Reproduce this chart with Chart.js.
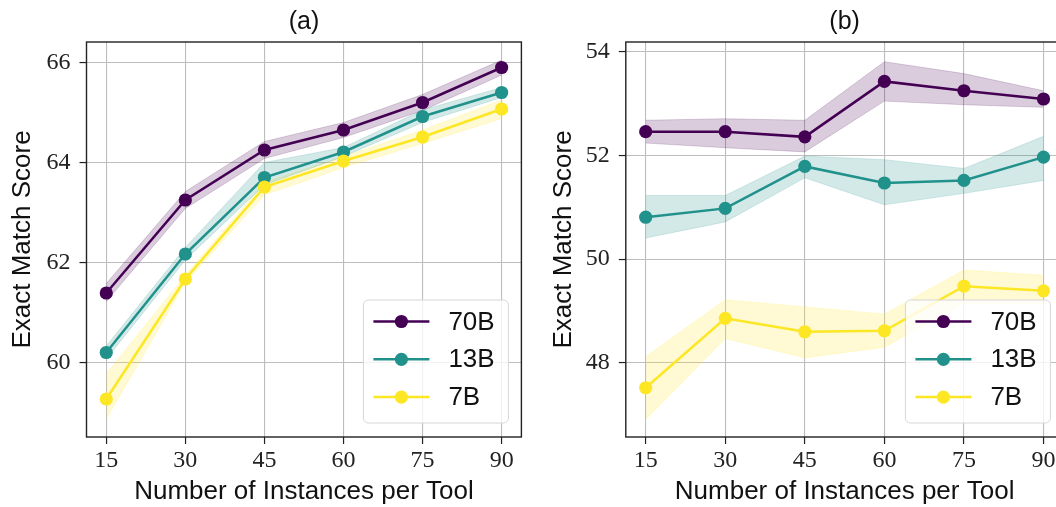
<!DOCTYPE html>
<html>
<head>
<meta charset="utf-8">
<script src="https://cdn.jsdelivr.net/npm/chart.js@4.4.1/dist/chart.umd.min.js"></script>
<style>
html,body{margin:0;padding:0;overflow:hidden;background:#fff;width:1056px;height:507px;position:relative}
#ca{position:absolute;left:0;top:0}
#cb{position:absolute;left:528px;top:0}
</style>
</head>
<body>
<canvas id="ca" width="528" height="507"></canvas>
<canvas id="cb" width="542" height="507"></canvas>
<script>
// ---------- data ----------
const instances = [15, 30, 45, 60, 75, 90];
const xTickValues = [15, 30, 45, 60, 75, 90];
const xLimits = [11.25, 93.75];
const modelNames = ['70B', '13B', '7B'];

const yTicksA = [60, 62, 64, 66];
const yLimitsA = [58.51, 66.41];
const yTicksB = [48, 50, 52, 54];
const yLimitsB = [46.57, 54.19];

// panel (a)
const a70   = [61.39, 63.25, 64.25, 64.65, 65.20, 65.90];
const a70Lo = [61.22, 63.08, 64.08, 64.50, 65.04, 65.75];
const a70Hi = [61.58, 63.42, 64.42, 64.80, 65.36, 66.05];
const a13   = [60.20, 62.17, 63.70, 64.21, 64.92, 65.40];
const a13Lo = [60.07, 62.05, 63.55, 64.12, 64.80, 65.30];
const a13Hi = [60.33, 62.30, 64.00, 64.30, 65.05, 65.50];
const a7    = [59.27, 61.67, 63.51, 64.03, 64.51, 65.07];
const a7Lo  = [58.87, 61.60, 63.35, 63.90, 64.38, 64.88];
const a7Hi  = [59.77, 61.75, 63.60, 64.12, 64.65, 65.25];

// panel (b)
const b70   = [52.46, 52.46, 52.36, 53.43, 53.25, 53.09];
const b70Lo = [52.24, 52.15, 52.07, 53.05, 52.98, 52.93];
const b70Hi = [52.68, 52.71, 52.68, 53.81, 53.58, 53.25];
const b13   = [50.81, 50.98, 51.79, 51.47, 51.52, 51.97];
const b13Lo = [50.41, 50.72, 51.57, 51.05, 51.27, 51.52];
const b13Hi = [51.23, 51.23, 51.99, 51.92, 51.75, 52.37];
const b7    = [47.52, 48.86, 48.60, 48.62, 49.48, 49.39];
const b7Lo  = [46.91, 48.47, 48.10, 48.30, 49.15, 49.15];
const b7Hi  = [48.12, 49.22, 49.08, 48.94, 49.79, 49.69];

// ---------- style ----------
const palette = [[68, 1, 84], [33, 145, 140], [253, 231, 37]];
const SANS = "'Liberation Sans', Arial, sans-serif";
const SERIF = "'Liberation Serif', 'Times New Roman', serif";
const rgba = (c, a) => `rgba(${c[0]},${c[1]},${c[2]},${a})`;
const pts = arr => instances.map((x, i) => ({ x: x, y: arr[i] }));

function buildDatasets(means, lows, highs) {
  const ds = [];
  modelNames.forEach((name, i) => {
    const c = palette[i];
    ds.push({ label: name + ' upper', data: pts(highs[i]), borderColor: rgba(c, 0.22), borderWidth: 0.8,
      pointRadius: 0, pointHoverRadius: 0, fill: false, order: 20 + i });
    ds.push({ label: name + ' lower', data: pts(lows[i]), borderColor: rgba(c, 0.22), borderWidth: 0.8,
      backgroundColor: rgba(c, 0.2), pointRadius: 0, pointHoverRadius: 0, fill: '-1', order: 20 + i });
    ds.push({ label: name, data: pts(means[i]), borderColor: rgba(c, 1), backgroundColor: rgba(c, 1),
      pointBackgroundColor: rgba(c, 1), pointBorderWidth: 0, borderWidth: 2.5, pointRadius: 6.6,
      pointHoverRadius: 6.6, fill: false, tension: 0, order: 3 - i, inBox: true });
  });
  return ds;
}

const panelDecor = {
  id: 'panelDecor',
  afterDatasetsDraw(chart) {
    const { ctx, chartArea: a } = chart;
    ctx.save();
    ctx.strokeStyle = '#222';
    ctx.lineWidth = 1.4;
    ctx.strokeRect(a.left, a.top, a.right - a.left, a.bottom - a.top);
    ctx.restore();
  },
  afterDraw(chart) {
    const { ctx, chartArea: a } = chart;
    const items = chart.data.datasets.filter(d => d.inBox);
    const w = 145, h = 123;
    const x = a.right - 13 - w, y = a.bottom - 14 - h, r = 5;
    ctx.save();
    ctx.beginPath();
    ctx.moveTo(x + r, y); ctx.lineTo(x + w - r, y); ctx.arcTo(x + w, y, x + w, y + r, r);
    ctx.lineTo(x + w, y + h - r); ctx.arcTo(x + w, y + h, x + w - r, y + h, r);
    ctx.lineTo(x + r, y + h); ctx.arcTo(x, y + h, x, y + h - r, r);
    ctx.lineTo(x, y + r); ctx.arcTo(x, y, x + r, y, r); ctx.closePath();
    ctx.fillStyle = 'rgba(255,255,255,0.8)';
    ctx.fill();
    ctx.strokeStyle = '#d6d6d6';
    ctx.lineWidth = 1;
    ctx.stroke();
    items.forEach((d, i) => {
      const cy = y + 21.5 + i * 37.8;
      ctx.strokeStyle = d.borderColor;
      ctx.lineWidth = d.borderWidth;
      ctx.beginPath(); ctx.moveTo(x + 10, cy); ctx.lineTo(x + 66, cy); ctx.stroke();
      ctx.fillStyle = d.borderColor;
      ctx.beginPath(); ctx.arc(x + 38, cy, d.pointRadius, 0, Math.PI * 2); ctx.fill();
      ctx.fillStyle = '#111';
      ctx.font = '26px ' + SANS;
      ctx.textBaseline = 'middle';
      ctx.textAlign = 'left';
      ctx.fillText(d.label, x + 85, cy + 1);
    });
    ctx.restore();
  }
};

function makeConfig(title, datasets, yTicks, yLimits, yAxisWidth, yTitlePad, rightPad) {
  return {
    type: 'line',
    data: { datasets: datasets },
    plugins: [panelDecor],
    options: {
      responsive: false,
      animation: false,
      events: [],
      layout: { padding: { left: 0, right: rightPad, top: 0, bottom: 0 } },
      plugins: {
        legend: { display: false },
        tooltip: { enabled: false },
        title: { display: true, text: title, fullSize: false, color: '#111',
          font: { family: SANS, size: 25, weight: 'normal' }, padding: { top: 7, bottom: 5 } }
      },
      scales: {
        x: {
          type: 'linear', min: xLimits[0], max: xLimits[1],
          afterBuildTicks: s => { s.ticks = xTickValues.map(v => ({ value: v })); },
          afterFit: s => { s.height = 70; },
          ticks: { color: '#222', font: { family: SERIF, size: 24 }, padding: 2, maxRotation: 0,
            autoSkip: false, callback: v => String(v) },
          grid: { color: '#bdbdbd', lineWidth: 1.1, tickLength: 7, tickColor: '#222', tickWidth: 1.2 },
          border: { display: false },
          title: { display: true, text: 'Number of Instances per Tool', color: '#111',
            font: { family: SANS, size: 26 }, padding: { top: 0, bottom: 0 } }
        },
        y: {
          type: 'linear', min: yLimits[0], max: yLimits[1],
          afterBuildTicks: s => { s.ticks = yTicks.map(v => ({ value: v })); },
          afterFit: s => { s.width = yAxisWidth; },
          ticks: { color: '#222', font: { family: SERIF, size: 24 }, padding: 9,
            autoSkip: false, callback: v => String(v) },
          grid: { color: '#bdbdbd', lineWidth: 1.1, tickLength: 7, tickColor: '#222', tickWidth: 1.2 },
          border: { display: false },
          title: { display: true, text: 'Exact Match Score', color: '#111',
            font: { family: SANS, size: 26 }, padding: { top: yTitlePad, bottom: 0 } }
        }
      }
    }
  };
}

new Chart(document.getElementById('ca'), makeConfig('(a)',
  buildDatasets([a70, a13, a7], [a70Lo, a13Lo, a7Lo], [a70Hi, a13Hi, a7Hi]),
  yTicksA, yLimitsA, 86.5, 7.5, 4));

new Chart(document.getElementById('cb'), makeConfig('(b)',
  buildDatasets([b70, b13, b7], [b70Lo, b13Lo, b7Lo], [b70Hi, b13Hi, b7Hi]),
  yTicksB, yLimitsB, 97.8, 20.4, 6));
</script>
</body>
</html>
